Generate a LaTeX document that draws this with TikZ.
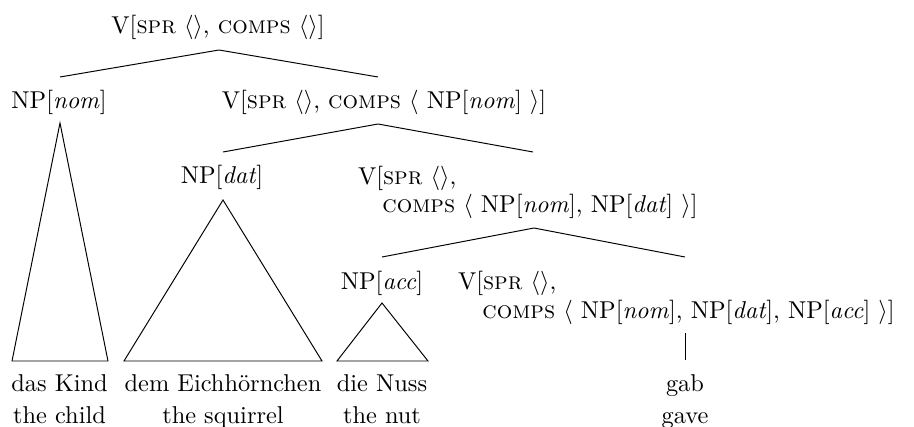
\documentclass[tikz,border=0pt]{standalone}
\begin{document}
\begin{tikzpicture}[x=0.4105pt,y=-0.4105pt,
  lbl/.style={inner sep=0pt, outer sep=0pt, anchor=base},
  lblw/.style={inner sep=0pt, outer sep=0pt, anchor=base west, align=left},
  edge/.style={line width=0.4pt}]
\useasboundingbox (0,0) rectangle (914,427);
% labels
\node[lbl] (top) at (218,34) {V[\textsc{spr} $\langle\rangle$, \textsc{comps} $\langle\rangle$]};
\node[lbl] (npnom) at (59,109) {NP[\textit{nom}]};
\node[lbl] (v2) at (384,109) {V[\textsc{spr} $\langle\rangle$, \textsc{comps} $\langle$ NP[\textit{nom}] $\rangle$]};
\node[lbl] (npdat) at (222,184) {NP[\textit{dat}]};
\node[lblw] (v3) at (358,213) {V[\textsc{spr} $\langle\rangle$,\\[-0.2pt]\hspace*{10pt}\textsc{comps} $\langle$ NP[\textit{nom}], NP[\textit{dat}] $\rangle$]};
\node[lbl] (npacc) at (382,289) {NP[\textit{acc}]};
\node[lblw] (v4) at (458,318) {V[\textsc{spr} $\langle\rangle$,\\[-0.2pt]\hspace*{10pt}\textsc{comps} $\langle$ NP[\textit{nom}], NP[\textit{dat}], NP[\textit{acc}] $\rangle$]};
% words
\node[lbl] (w1) at (59.5,391) {das Kind};
\node[lbl] (g1) at (59.5,423) {the child};
\node[lbl] (w2) at (223,391) {dem Eichh\"ornchen};
\node[lbl] (g2) at (223,423) {the squirrel};
\node[lbl] (w3) at (382,391) {die Nuss};
\node[lbl] (g3) at (382,423) {the nut};
\node[lbl] (w4) at (685,391) {gab};
\node[lbl] (g4) at (685,423) {gave};
% branch points
\coordinate (a0) at (219,50);
\coordinate (a0l) at (60,77);
\coordinate (a0r) at (378,77);
\coordinate (a1) at (378,124);
\coordinate (a1l) at (223,152);
\coordinate (a1r) at (533,152);
\coordinate (a2) at (534,228);
\coordinate (a2l) at (382,257);
\coordinate (a2r) at (685,257);
\coordinate (a3) at (685,333);
\coordinate (a3b) at (685,360);
\draw[edge] (a0l) -- (a0) -- (a0r);
\draw[edge] (a1l) -- (a1) -- (a1r);
\draw[edge] (a2l) -- (a2) -- (a2r);
\draw[edge] (a3) -- (a3b);
% triangles
\draw[edge] (60,123) -- (12,361) -- (108,361) -- cycle;
\draw[edge] (223,200) -- (124,361) -- (322,361) -- cycle;
\draw[edge] (382,303) -- (337,361) -- (428,361) -- cycle;
\end{tikzpicture}
\end{document}
